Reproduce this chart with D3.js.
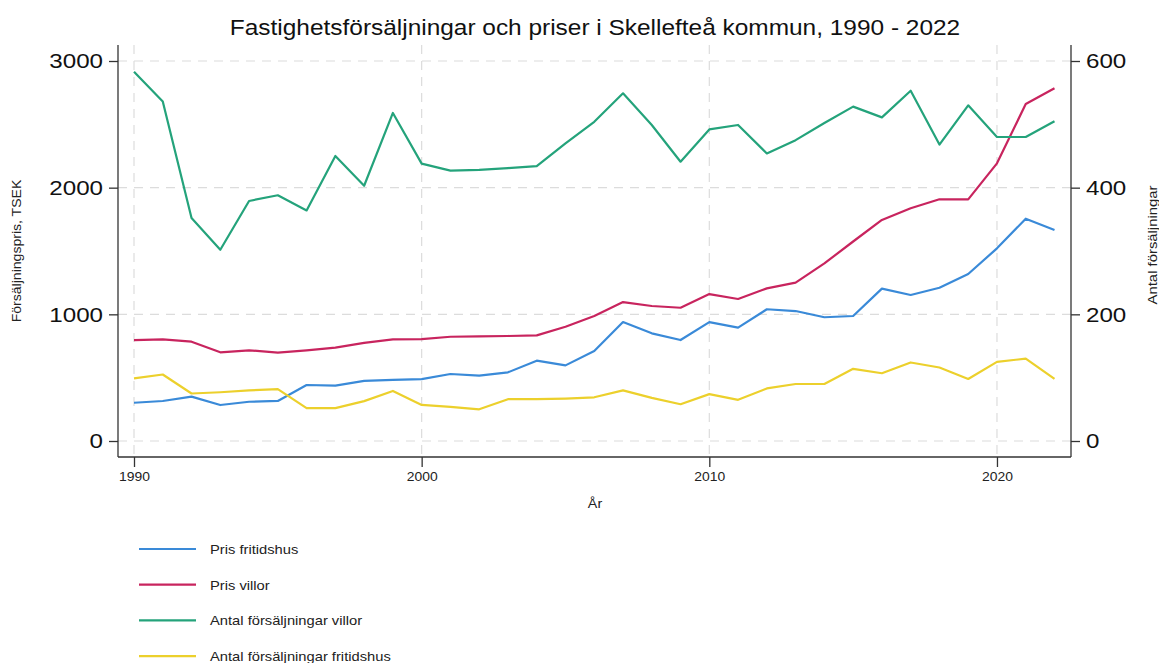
<!DOCTYPE html>
<html>
<head>
<meta charset="utf-8">
<title>Skellefteå</title>
<script src="https://cdn.jsdelivr.net/npm/d3@7"></script>
<style>
  body { margin: 0; background: #fff; }
  svg { display: block; font-family: "Liberation Sans", Arial, sans-serif; }
  .grid line { stroke: #dcdcdc; stroke-dasharray: 9 7; stroke-width: 1.2; }
  .axis path, .axis line { stroke: #333; stroke-width: 1.3; }
</style>
</head>
<body>
<svg id="svg"></svg>
<script>
// years 1990 - 2022
var years = d3.range(1990, 2023);

// prices, TSEK (left axis)
var prisFritidshus = [302, 316, 350, 284, 310, 316, 442, 437, 474, 482, 489,
  529, 516, 542, 634, 597, 711, 939, 850, 797, 939, 895, 1040, 1026, 977, 987,
  1203, 1153, 1210, 1318, 1521, 1755, 1666];
var prisVillor = [797, 803, 784, 700, 716, 697, 716, 737, 774, 803, 805,
  823, 826, 829, 834, 902, 987, 1097, 1066, 1052, 1160, 1121, 1205, 1250, 1402, 1575,
  1745, 1837, 1908, 1908, 2192, 2660, 2785];

// number of sales (right axis)
var antalVillor = [583, 536, 352, 302, 379, 388, 364, 450, 403, 518, 438,
  427, 428, 431, 434, 470, 504, 549, 499, 441, 492, 499, 454, 475, 502, 528,
  511, 553, 468, 530, 480, 480, 505];
var antalFritidshus = [99, 105, 75, 77, 80, 82, 52, 52, 63, 79, 57,
  54, 50, 66, 66, 67, 69, 80, 68, 58, 74, 65, 83, 90, 90, 114,
  107, 124, 116, 98, 125, 130, 98];

var leftTicks = [0, 1000, 2000, 3000];
var rightTicks = [0, 200, 400, 600];
var xTicks = [1990, 2000, 2010, 2020];

var series = [
  {name: "Pris fritidshus", values: prisFritidshus, axis: "left", color: "#3a8ad8"},
  {name: "Pris villor", values: prisVillor, axis: "left", color: "#c8245e"},
  {name: "Antal försäljningar villor", values: antalVillor, axis: "right", color: "#24a37b"},
  {name: "Antal försäljningar fritidshus", values: antalFritidshus, axis: "right", color: "#ecd02c"}
];

var width = 1159, height = 663;
var svg = d3.select("svg").attr("width", width).attr("height", height);

// plot region ("top" is taken by window.top, so use other names)
var plotLeft = 118, plotRight = 1071, plotTop = 45, plotBottom = 457;

var xScale = d3.scaleLinear().domain([1990, 2022]).range([134, 1054.5]);
var yLeft = d3.scaleLinear().domain([0, 3000]).range([441, 61]);
var yRight = d3.scaleLinear().domain([0, 600]).range([441, 61]);

// the reference text is a bit wider than it is tall
function stretch(sel, factor){
  sel.each(function(){
    var w = this.getComputedTextLength();
    d3.select(this).attr("textLength", w * factor).attr("lengthAdjust", "spacingAndGlyphs");
  });
}

// gridlines
var grid = svg.append("g").attr("class", "grid");
grid.selectAll(".h").data(leftTicks).enter().append("line")
  .attr("x1", plotLeft).attr("x2", plotRight)
  .attr("y1", function(d){ return yLeft(d); })
  .attr("y2", function(d){ return yLeft(d); });
grid.selectAll(".v").data(xTicks).enter().append("line")
  .attr("y1", plotTop).attr("y2", plotBottom)
  .attr("x1", function(d){ return xScale(d); })
  .attr("x2", function(d){ return xScale(d); });

// axes
var gLeft = svg.append("g").attr("class", "axis")
  .attr("transform", "translate(" + plotLeft + ",0)")
  .call(d3.axisLeft(yLeft).tickValues(leftTicks).tickSize(9).tickPadding(6).tickFormat(d3.format("d")));
gLeft.select(".domain").attr("d", "M0," + plotTop + "V" + plotBottom);
gLeft.selectAll("text").attr("font-size", 21).attr("fill", "#111").attr("font-family", "Liberation Sans, Arial")
  .call(stretch, 1.15);

var gRight = svg.append("g").attr("class", "axis")
  .attr("transform", "translate(" + plotRight + ",0)")
  .call(d3.axisRight(yRight).tickValues(rightTicks).tickSize(9).tickPadding(6).tickFormat(d3.format("d")));
gRight.select(".domain").attr("d", "M0," + plotTop + "V" + plotBottom);
gRight.selectAll("text").attr("font-size", 21).attr("fill", "#111").attr("font-family", "Liberation Sans, Arial")
  .call(stretch, 1.15);

var gX = svg.append("g").attr("class", "axis")
  .attr("transform", "translate(0," + plotBottom + ")")
  .call(d3.axisBottom(xScale).tickValues(xTicks).tickSize(10).tickPadding(5).tickFormat(d3.format("d")));
gX.select(".domain").attr("d", "M" + plotLeft + ",0H" + plotRight);
gX.selectAll("text").attr("font-size", 13).attr("fill", "#222").attr("font-family", "Liberation Sans, Arial")
  .call(stretch, 1.07);

// lines
series.forEach(function(s){
  var y = s.axis === "left" ? yLeft : yRight;
  var line = d3.line()
    .x(function(d, i){ return xScale(years[i]); })
    .y(function(d){ return y(d); });
  svg.append("path")
    .datum(s.values)
    .attr("d", line)
    .attr("fill", "none")
    .attr("stroke", s.color)
    .attr("stroke-width", 2.2)
    .attr("stroke-linejoin", "round");
});

// titles
svg.append("text")
  .attr("x", 595).attr("y", 35)
  .attr("text-anchor", "middle")
  .attr("font-size", 22).attr("fill", "#111")
  .text("Fastighetsförsäljningar och priser i Skellefteå kommun, 1990 - 2022")
  .call(stretch, 1.11);

svg.append("text")
  .attr("x", 595).attr("y", 508)
  .attr("text-anchor", "middle")
  .attr("font-size", 13).attr("fill", "#222")
  .text("År")
  .call(stretch, 1.1);

svg.append("text")
  .attr("transform", "translate(21,251) rotate(-90)")
  .attr("text-anchor", "middle")
  .attr("font-size", 13.5).attr("fill", "#222")
  .text("Försäljningspris, TSEK")
  .call(stretch, 1.04);

svg.append("text")
  .attr("transform", "translate(1157,245) rotate(-90)")
  .attr("text-anchor", "middle")
  .attr("font-size", 13.5).attr("fill", "#222")
  .text("Antal försäljningar")
  .call(stretch, 1.1);

// legend
var legend = svg.selectAll(".legend").data(series).enter().append("g")
  .attr("class", "legend")
  .attr("transform", function(d, i){ return "translate(0," + (549 + i * 35.7) + ")"; });
legend.append("line")
  .attr("x1", 139).attr("x2", 196)
  .attr("stroke", function(d){ return d.color; })
  .attr("stroke-width", 2.2);
legend.append("text")
  .attr("x", 210).attr("y", 5)
  .attr("font-size", 13.5).attr("fill", "#222")
  .text(function(d){ return d.name; })
  .call(stretch, 1.09);
</script>
</body>
</html>
